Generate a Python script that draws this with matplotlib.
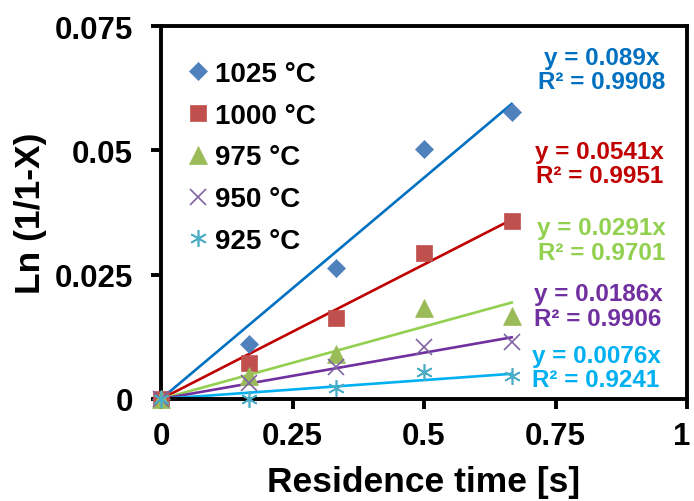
import numpy as np
import matplotlib.pyplot as plt
from matplotlib.transforms import ScaledTranslation

plt.rcParams['font.family'] = ['Liberation Sans', 'DejaVu Sans']
plt.rcParams['font.weight'] = 'bold'

# residence time [s] and Ln(1/(1-X)) per temperature
times = [0, 1 / 6, 1 / 3, 0.5, 2 / 3]
labels = ["1025 °C", "1000 °C", "975 °C", "950 °C", "925 °C"]
ln_1025 = [0, 0.0111, 0.0263, 0.0503, 0.0577]
ln_1000 = [0, 0.0072, 0.0163, 0.0294, 0.0358]
ln_975 = [0, 0.0046, 0.0090, 0.0183, 0.0167]
ln_950 = [0, 0.0032, 0.0064, 0.0105, 0.0115]
ln_925 = [0, 0.0000, 0.0022, 0.0054, 0.0046]
series = [ln_1025, ln_1000, ln_975, ln_950, ln_925]

# linear trendlines through origin (Excel)
slopes = [0.089, 0.0541, 0.0291, 0.0186, 0.0076]
r2 = [0.9908, 0.9951, 0.9701, 0.9906, 0.9241]

marker_colors = ["#4F81BD", "#C0504D", "#9BBB59", "#8064A2", "#4BACC6"]
line_colors = ["#0070C0", "#C00000", "#92D050", "#7030A0", "#00B0F0"]
markers = ["D", "s", "^", "x", (6, 2, 0)]
msizes = [9, 11.5, 12.5, 12, 12]

fig = plt.figure(figsize=(6.94, 5.02), dpi=100)
ax = fig.add_axes([0.232, 0.2032, 0.758, 0.743])

x_fit = np.array([0, times[-1]])
for k in range(5):
    ax.plot(x_fit, slopes[k] * x_fit, color=line_colors[k], lw=1.9, zorder=2)

for k in range(5):
    mk = markers[k]
    thin = mk == "x" or isinstance(mk, tuple)
    ax.plot(times, series[k], linestyle="none", marker=mk, ms=msizes[k],
            color=marker_colors[k], mec=marker_colors[k],
            mew=1.2 if thin else 0.5, label=labels[k], clip_on=False, zorder=3)

# equation labels, block centres in data coords
eq_pos = [(0.838, 0.0663), (0.833, 0.0473), (0.837, 0.0320), (0.831, 0.0187), (0.827, 0.0063)]
for k in range(5):
    ax.text(eq_pos[k][0], eq_pos[k][1],
            "y = {}x\nR² = {}".format(slopes[k], r2[k]),
            color=line_colors[k], fontsize=17.5, fontweight="bold",
            ha="center", va="center", linespacing=1.08)

ax.set_xlim(0, 1)
ax.set_ylim(0, 0.075)
ax.set_xticks([0, 0.25, 0.5, 0.75, 1])
ax.set_xticklabels(["0", "0.25", "0.5", "0.75", "1"])
ax.set_yticks([0, 0.025, 0.05, 0.075])
ax.set_yticklabels(["0", "0.025", "0.05", "0.075"])
ax.tick_params(direction="out", length=7, width=2.8, labelsize=22.5)
ax.tick_params(axis="y", pad=13)
ax.tick_params(axis="x", pad=9)

# the last x label sits at the right edge, nudge it in a little
last = ax.get_xticklabels()[-1]
last.set_transform(last.get_transform() + ScaledTranslation(-4 / 72, 0, fig.dpi_scale_trans))

for sp in ax.spines.values():
    sp.set_linewidth(2.8)

ax.set_xlabel("Residence time [s]", fontsize=25.5, fontweight="bold", labelpad=10)
ax.set_ylabel("Ln (1/1-X)", fontsize=25.5, fontweight="bold", labelpad=6)

leg = ax.legend(loc="upper left", bbox_to_anchor=(0.013, 0.959), frameon=False,
                fontsize=20, handlelength=0.8, handletextpad=0.2,
                labelspacing=0.57, borderaxespad=0.3)

fig.savefig("out.png", dpi=100)
